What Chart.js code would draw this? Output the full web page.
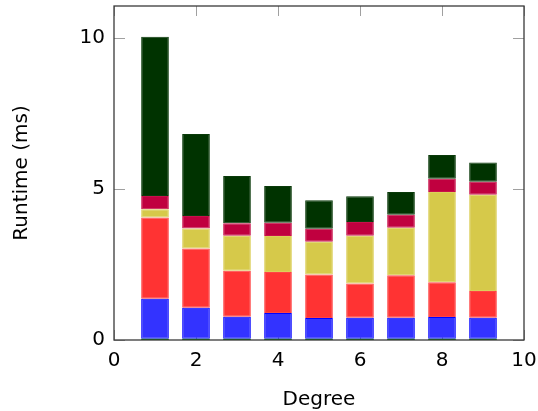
<!DOCTYPE html>
<html>
<head>
<meta charset="utf-8">
<script src="https://cdn.jsdelivr.net/npm/chart.js@4"></script>
<style>
  html, body { margin: 0; padding: 0; background: #fff; }
  #wrap { width: 538px; height: 411px; }
</style>
</head>
<body>
<div id="wrap"><canvas id="runtimechart" width="538" height="411"></canvas></div>
<script>
// degree of each bar
var degrees = [1, 2, 3, 4, 5, 6, 7, 8, 9];

// runtime parts (ms), bottom to top
var partGreen   = [0.04, 0.04, 0.04, 0.04, 0.04, 0.04, 0.04, 0.04, 0.04];
var partBlue    = [1.33, 1.03, 0.73, 0.85, 0.69, 0.70, 0.70, 0.72, 0.70];
var partRed     = [2.69, 1.96, 1.52, 1.36, 1.44, 1.13, 1.40, 1.15, 0.88];
var partYellow  = [0.27, 0.66, 1.16, 1.19, 1.08, 1.58, 1.58, 2.99, 3.19];
var partCrimson = [0.44, 0.42, 0.42, 0.44, 0.43, 0.46, 0.43, 0.44, 0.43];
var partDark    = [5.27, 2.71, 1.56, 1.22, 0.95, 0.85, 0.75, 0.79, 0.64];

var xTicks = [0, 2, 4, 6, 8, 10];
var yTicks = [0, 5, 10];

var FONT = "'DejaVu Sans', sans-serif";
var FSIZE = 20;

function points(vals) {
  var out = [];
  for (var i = 0; i < degrees.length; i++) {
    out.push({ x: degrees[i], y: vals[i] });
  }
  return out;
}

function series(vals, fill, line, bw) {
  return {
    data: points(vals),
    backgroundColor: fill,
    borderColor: line,
    borderWidth: bw,
    borderSkipped: false,
    barPercentage: 0.675,
    categoryPercentage: 1.0
  };
}

// frame + inward tick marks like the original
var framePlugin = {
  id: "frame",
  beforeDatasetsDraw: function (chart) {
    var ctx = chart.ctx, a = chart.chartArea;
    var xs = chart.scales.x, ys = chart.scales.y;
    ctx.save();
    ctx.strokeStyle = "#a0a0a0";
    ctx.lineWidth = 1;
    xTicks.forEach(function (t) {
      var px = Math.round(xs.getPixelForValue(t)) + 0.5;
      ctx.beginPath();
      ctx.moveTo(px, a.top); ctx.lineTo(px, a.top + 10);
      ctx.moveTo(px, a.bottom); ctx.lineTo(px, a.bottom - 10);
      ctx.stroke();
    });
    yTicks.forEach(function (t) {
      var py = Math.round(ys.getPixelForValue(t)) + 0.5;
      ctx.beginPath();
      ctx.moveTo(a.left, py); ctx.lineTo(a.left + 11, py);
      ctx.moveTo(a.right, py); ctx.lineTo(a.right - 11, py);
      ctx.stroke();
    });
    ctx.restore();
  },
  afterDatasetsDraw: function (chart) {
    var ctx = chart.ctx, a = chart.chartArea;
    ctx.save();
    ctx.strokeStyle = "#3a3a3a";
    ctx.lineWidth = 1.3;
    ctx.strokeRect(a.left, a.top, a.right - a.left, a.bottom - a.top);
    ctx.restore();
  }
};

function Init() {
  var ctx = document.getElementById("runtimechart").getContext("2d");
  new Chart(ctx, {
    type: "bar",
    data: {
      datasets: [
        series(partGreen, "#008000", "#008000", 0),
        series(partBlue, "#3333ff", "#0000ff", 1),
        series(partRed, "#ff3333", "#ff4444", 1),
        series(partYellow, "#d6c94a", "#dccf5a", 1),
        series(partCrimson, "#c0003f", "#c8104a", 1),
        series(partDark, "#003300", "#0a3a0a", 1)
      ]
    },
    options: {
      responsive: false,
      animation: false,
      layout: { padding: { top: 6, right: 14, left: 0, bottom: 0 } },
      plugins: { legend: { display: false }, tooltip: { enabled: false } },
      scales: {
        x: {
          type: "linear",
          stacked: true,
          min: 0,
          max: 10,
          offset: false,
          afterFit: function (s) { s.height = 71; s.paddingLeft = 0; s.paddingRight = 0; },
          afterBuildTicks: function (s) { s.ticks = xTicks.map(function (v) { return { value: v }; }); },
          grid: { display: false, drawTicks: false },
          border: { display: false },
          ticks: { color: "#000", padding: 9, font: { family: FONT, size: FSIZE } },
          title: { display: true, text: "Degree", color: "#000", padding: { top: 0, bottom: -1 }, font: { family: FONT, size: FSIZE } }
        },
        y: {
          stacked: true,
          min: 0,
          max: 11.06,
          afterFit: function (s) { s.width = 114; s.paddingTop = 0; s.paddingBottom = 0; },
          afterBuildTicks: function (s) { s.ticks = yTicks.map(function (v) { return { value: v }; }); },
          grid: { display: false, drawTicks: false },
          border: { display: false },
          ticks: { color: "#000", padding: 9, font: { family: FONT, size: FSIZE } },
          title: { display: true, text: "Runtime (ms)", color: "#000", padding: { top: 10, bottom: 0 }, font: { family: FONT, size: FSIZE } }
        }
      }
    },
    plugins: [framePlugin]
  });
}

Init();
</script>
</body>
</html>
